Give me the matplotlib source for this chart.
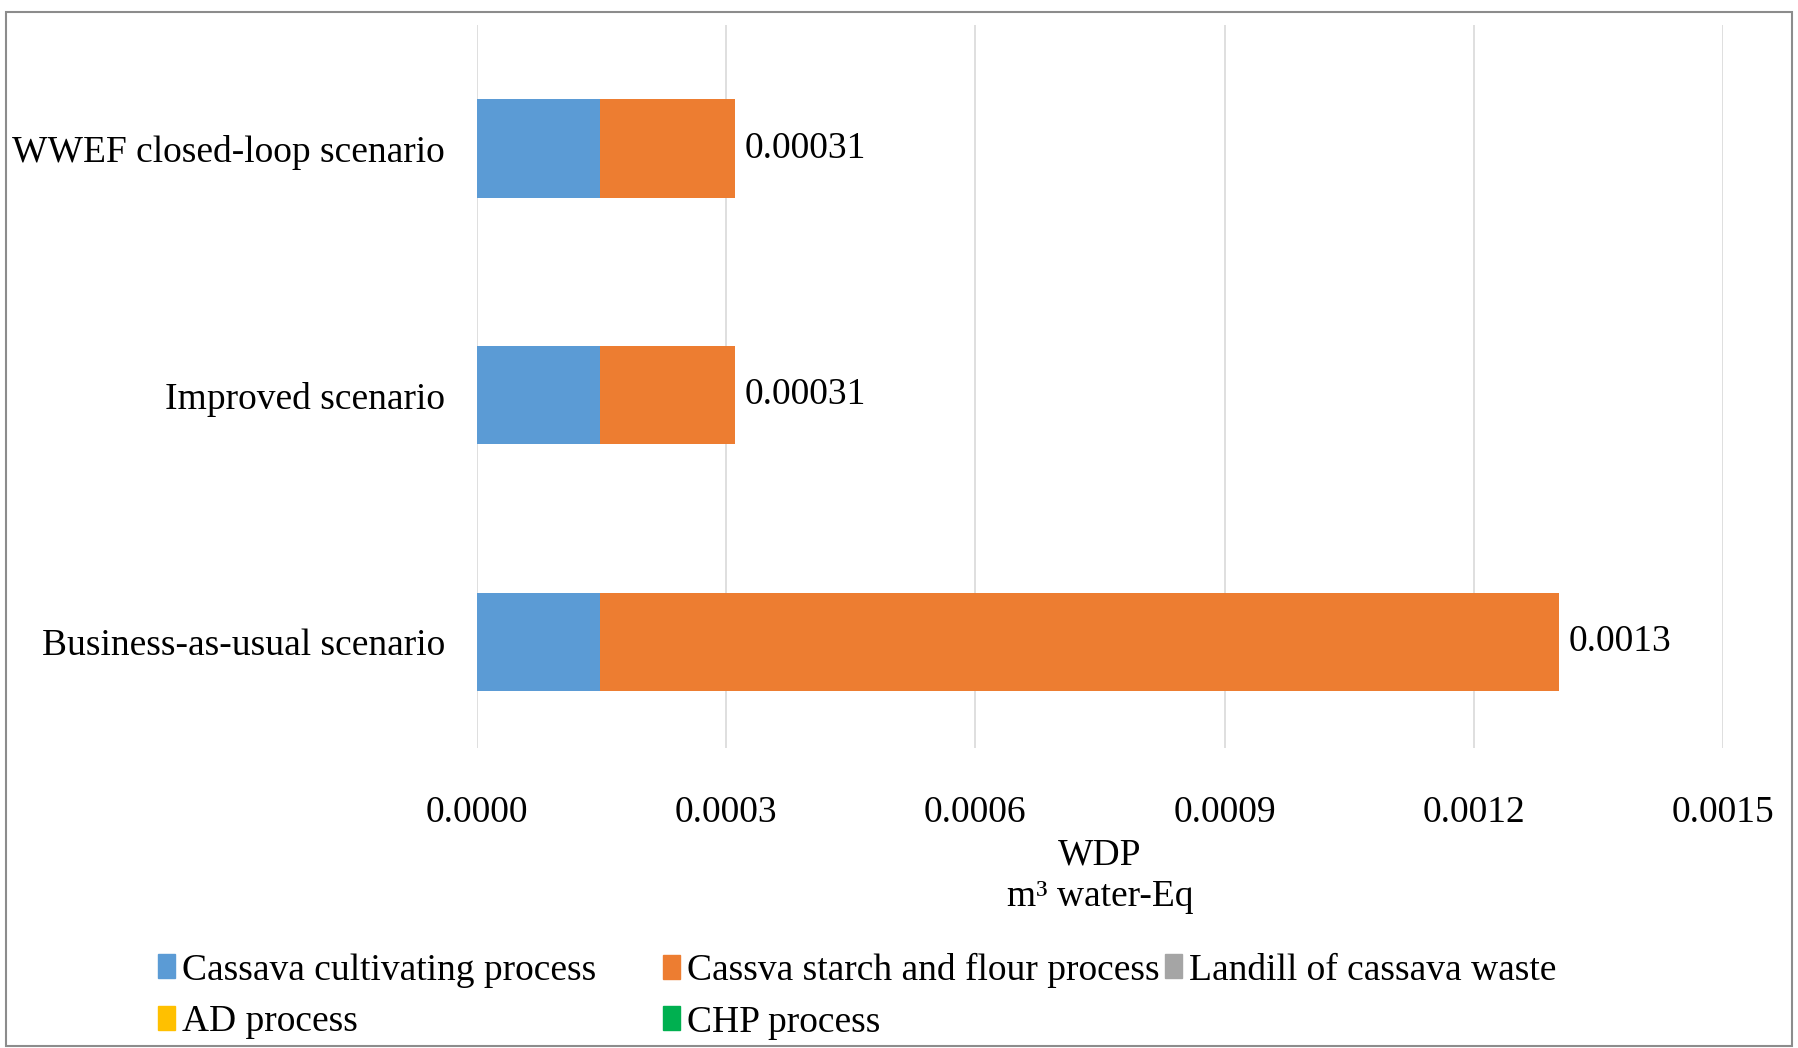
import matplotlib
matplotlib.use("Agg")
import matplotlib.pyplot as plt
from matplotlib.patches import Rectangle, Patch

plt.rcParams["font.family"] = ["Liberation Serif", "DejaVu Serif"]

scenarios = ["Business-as-usual scenario", "Improved scenario", "WWEF closed-loop scenario"]
processes = ["Cassava cultivating process", "Cassva starch and flour process",
             "Landill of cassava waste", "AD process", "CHP process"]
cultivating = [0.000148, 0.000148, 0.000148]
starch_flour = [0.001155, 0.000162, 0.000162]
landfill = [0.0, 0.0, 0.0]
ad = [0.0, 0.0, 0.0]
chp = [0.0, 0.0, 0.0]
xticks = [0.0, 0.0003, 0.0006, 0.0009, 0.0012, 0.0015]

colors = ["#5B9BD5", "#ED7D31", "#A5A5A5", "#FFC000", "#00B050"]
series = [cultivating, starch_flour, landfill, ad, chp]
FS = 27

W, H = 1798, 1048
fig = plt.figure(figsize=(W / 100, H / 100), dpi=100)
ax = fig.add_axes([477 / W, 1 - 748 / H, (1723 - 477) / W, (748 - 25) / H])

ypos = range(len(scenarios))
left = [0.0] * len(scenarios)
for vals, c, name in zip(series, colors, processes):
    ax.barh(ypos, vals, left=left, height=0.4, color=c, label=name, zorder=2)
    left = [l + v for l, v in zip(left, vals)]

for y, total in zip(ypos, left):
    ax.annotate(f"{total:.2g}", (total, y), xytext=(7, 0), textcoords="offset points",
                va="center", ha="left", fontsize=FS)

ax.set_xlim(0, 0.0015)
ax.set_ylim(-0.43, 2.5)
ax.set_xticks(xticks)
ax.set_xticklabels([f"{v:.4f}" for v in xticks], fontsize=FS)
ax.set_yticks(list(ypos))
ax.set_yticklabels(scenarios, fontsize=FS)
ax.tick_params(length=0)
ax.tick_params(axis="x", pad=34)
ax.tick_params(axis="y", pad=23)
ax.grid(axis="x", color="#D9D9D9", lw=1.2, zorder=0)
for s in ax.spines.values():
    s.set_visible(False)
ax.set_xlabel("WDP\nm³ water-Eq", fontsize=FS, labelpad=6, linespacing=1.28)

# legend laid out as three fixed-width columns, filled row by row
columns = [[0, 3], [1, 4], [2]]
col_x = [158, 663, 1165]
for idx, x in zip(columns, col_x):
    leg = fig.legend([Patch(color=colors[i]) for i in idx], [processes[i] for i in idx],
                     loc="upper left", bbox_to_anchor=(x / W, 1 - 953 / H),
                     frameon=False, fontsize=FS, handlelength=0.45, handleheight=0.6,
                     handletextpad=0.2, labelspacing=0.45, borderpad=0, borderaxespad=0)

fig.patches.append(Rectangle((6 / W, 2 / H), (1792 - 6) / W, (1036 - 2) / H,
                             transform=fig.transFigure, fill=False,
                             edgecolor="#8C8C8C", lw=1.5))

fig.savefig("out.png", dpi=100)
plt.close(fig)
